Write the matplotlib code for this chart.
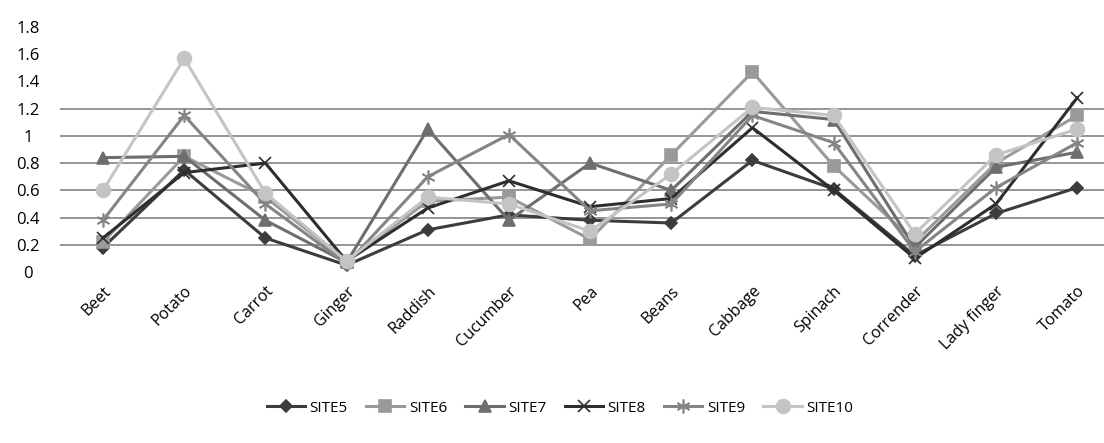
import numpy as np
import matplotlib
matplotlib.use('Agg')
import matplotlib.pyplot as plt

plt.rcParams['font.family'] = ['Open Sans', 'DejaVu Sans']

# crops on the x axis
crops = ['Beet', 'Potato', 'Carrot', 'Ginger', 'Raddish', 'Cucumber', 'Pea',
         'Beans', 'Cabbage', 'Spinach', 'Corrender', 'Lady finger', 'Tomato']

# values, one list per site
site5 = [0.18, 0.75, 0.25, 0.05, 0.31, 0.42, 0.38, 0.36, 0.82, 0.61, 0.12, 0.43, 0.62]
site6 = [0.22, 0.85, 0.55, 0.08, 0.52, 0.55, 0.24, 0.86, 1.47, 0.78, 0.22, 0.80, 1.15]
site7 = [0.84, 0.85, 0.38, 0.07, 1.05, 0.38, 0.80, 0.60, 1.18, 1.12, 0.18, 0.77, 0.88]
site8 = [0.25, 0.73, 0.80, 0.08, 0.47, 0.67, 0.48, 0.54, 1.06, 0.60, 0.10, 0.50, 1.28]
site9 = [0.38, 1.15, 0.50, 0.06, 0.70, 1.01, 0.45, 0.50, 1.15, 0.95, 0.15, 0.62, 0.95]
site10 = [0.60, 1.57, 0.58, 0.08, 0.55, 0.50, 0.30, 0.72, 1.21, 1.15, 0.28, 0.86, 1.05]

series = [
    ('SITE5', site5, '#3c3c3c', 'D', 6),
    ('SITE6', site6, '#9a9a9a', 's', 9),
    ('SITE7', site7, '#6e6e6e', '^', 8),
    ('SITE8', site8, '#2e2e2e', 'x', 9),
    ('SITE9', site9, '#858585', (6, 2, 0), 10),
    ('SITE10', site10, '#c4c4c4', 'o', 10),
]

fig = plt.figure(figsize=(11.04, 4.43), dpi=100)
ax = fig.add_axes([60 / 1104, 1 - 272 / 443, 1 - 60 / 1104, 245 / 443])

x = np.arange(len(crops))
for name, vals, col, mk, ms in series:
    ax.plot(x, vals, color=col, marker=mk, markersize=ms, linewidth=2.2,
            markeredgecolor=col, markeredgewidth=1.2, label=name)

ax.set_xlim(-0.53, 12.33)
ax.set_ylim(0, 1.8)
ax.set_yticks(np.arange(0, 1.81, 0.2))
ax.set_yticklabels(['0', '0.2', '0.4', '0.6', '0.8', '1', '1.2', '1.4', '1.6', '1.8'],
                   fontsize=12, ha='center')
ax.tick_params(axis='y', length=0, pad=23)
ax.tick_params(axis='x', length=0, pad=8)

ax.set_xticks(x)
ax.set_xticklabels(crops, rotation=45, ha='right', rotation_mode='anchor', fontsize=11.5)

# gridlines only 0.2 .. 1.2 as in the reference
for g in [0.2, 0.4, 0.6, 0.8, 1.0, 1.2]:
    ax.axhline(g, color='#8c8c8c', linewidth=1.3, zorder=0)

for s in ax.spines.values():
    s.set_visible(False)

fig.legend(loc='center', bbox_to_anchor=(560 / 1104, 1 - 408 / 443), ncol=6,
           frameon=False, fontsize=11, handlelength=2.5, columnspacing=1.2,
           handletextpad=0.3)

fig.savefig('out.png', dpi=100)
